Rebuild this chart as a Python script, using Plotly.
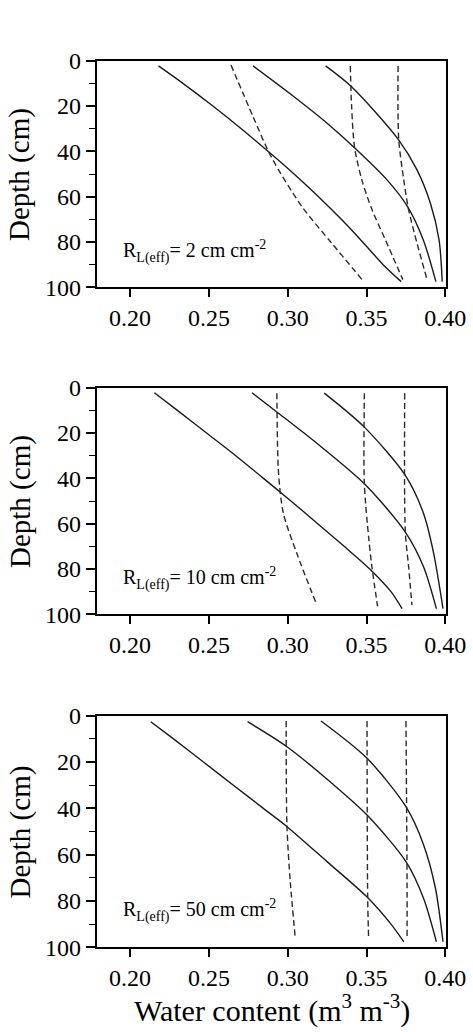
import plotly.graph_objects as go

# ---------------- data (depth in cm, water content in m3 m-3) ----------------
# Panel 1: R_L(eff) = 2 cm cm-2
p1_s1_depth = [2.3, 10, 20, 30, 40, 50, 60, 70, 80, 90, 97.5]
p1_s1_theta = [0.218, 0.2335, 0.2525, 0.2705, 0.2875, 0.304, 0.3195, 0.334, 0.3475, 0.3605, 0.372]
p1_s2_depth = [2.3, 15.9, 27.6, 38.2, 52.6, 64.4, 79.1, 97.5]
p1_s2_theta = [0.278, 0.304, 0.325, 0.342, 0.363, 0.376, 0.386, 0.394]
p1_s3_depth = [2.3, 11.2, 34.6, 48.2, 62.9, 79.1, 97.5]
p1_s3_theta = [0.324, 0.340, 0.370, 0.382, 0.3905, 0.396, 0.398]
p1_d1_depth = [1.9, 24.7, 42.4, 64.4, 80.6, 96.5]
p1_d1_theta = [0.264, 0.278, 0.2895, 0.309, 0.328, 0.347]
p1_d2_depth = [2.3, 20.0, 38.2, 52.6, 65.8, 79.1, 96.6]
p1_d2_theta = [0.3397, 0.3405, 0.3424, 0.347, 0.3535, 0.362, 0.373]
p1_d3_depth = [2.3, 34.6, 52.6, 65.8, 80.5, 96.6]
p1_d3_theta = [0.370, 0.3704, 0.3736, 0.3767, 0.382, 0.3884]

# Panel 2: R_L(eff) = 10 cm cm-2
p2_s1_depth = [2.2, 10, 20, 30, 40, 50, 60, 70, 80, 90, 97.5]
p2_s1_theta = [0.2154, 0.230, 0.2485, 0.267, 0.2846, 0.302, 0.319, 0.3358, 0.352, 0.3655, 0.3725]
p2_s2_depth = [2.2, 10.7, 24.0, 42.4, 63.7, 79.1, 97.5]
p2_s2_theta = [0.2773, 0.2931, 0.3175, 0.3486, 0.3746, 0.3862, 0.3943]
p2_s3_depth = [2.4, 17.4, 38.7, 55.6, 73.2, 97.5]
p2_s3_theta = [0.3232, 0.3486, 0.3746, 0.3862, 0.3926, 0.3985]
p2_d1_depth = [2.4, 38.2, 55.6, 73.2, 96.0]
p2_d1_theta = [0.2931, 0.2942, 0.2973, 0.3058, 0.3185]
p2_d2_depth = [2.4, 42.4, 65.9, 79.1, 96.5]
p2_d2_theta = [0.3486, 0.3486, 0.3513, 0.3534, 0.357]
p2_d3_depth = [2.4, 63.7, 79.1, 96.0]
p2_d3_theta = [0.3742, 0.3746, 0.3767, 0.3788]

# Panel 3: R_L(eff) = 50 cm cm-2
p3_s1_depth = [2.6, 10, 20, 30, 40, 47.6, 63.0, 78.1, 90, 97.6]
p3_s1_theta = [0.2131, 0.2275, 0.2465, 0.2655, 0.2845, 0.299, 0.3249, 0.350, 0.3655, 0.3736]
p3_s2_depth = [2.6, 13.4, 29.2, 42.9, 63.0, 78.9, 97.6]
p3_s2_theta = [0.2745, 0.2995, 0.328, 0.3503, 0.375, 0.3862, 0.3943]
p3_s3_depth = [2.3, 18.4, 39.3, 55.8, 74.5, 97.6]
p3_s3_theta = [0.3211, 0.3503, 0.375, 0.3862, 0.3937, 0.3985]
p3_d1_depth = [2.3, 47.6, 71.7, 96.1]
p3_d1_theta = [0.299, 0.2995, 0.3016, 0.3048]
p3_d2_depth = [2.3, 78.1, 96.1]
p3_d2_theta = [0.3503, 0.3507, 0.3513]
p3_d3_depth = [2.3, 71.7, 96.1]
p3_d3_theta = [0.375, 0.3757, 0.3757]

panel_labels = ["2", "10", "50"]
x_tickvals = [0.20, 0.25, 0.30, 0.35, 0.40]
x_ticktext = ["0.20", "0.25", "0.30", "0.35", "0.40"]
y_tickvals = [0, 20, 40, 60, 80, 100]

panels = [
    [(p1_s1_theta, p1_s1_depth, "solid"), (p1_s2_theta, p1_s2_depth, "solid"), (p1_s3_theta, p1_s3_depth, "solid"),
     (p1_d1_theta, p1_d1_depth, "dash"), (p1_d2_theta, p1_d2_depth, "dash"), (p1_d3_theta, p1_d3_depth, "dash")],
    [(p2_s1_theta, p2_s1_depth, "solid"), (p2_s2_theta, p2_s2_depth, "solid"), (p2_s3_theta, p2_s3_depth, "solid"),
     (p2_d1_theta, p2_d1_depth, "dash"), (p2_d2_theta, p2_d2_depth, "dash"), (p2_d3_theta, p2_d3_depth, "dash")],
    [(p3_s1_theta, p3_s1_depth, "solid"), (p3_s2_theta, p3_s2_depth, "solid"), (p3_s3_theta, p3_s3_depth, "solid"),
     (p3_d1_theta, p3_d1_depth, "dash"), (p3_d2_theta, p3_d2_depth, "dash"), (p3_d3_theta, p3_d3_depth, "dash")],
]

# ---------------- layout geometry (pixels) ----------------
W, H = 473, 1032
x_left_px, x_right_px = 96.7, 446.0
panel_px = [(60.7, 287.3), (387.7, 614.3), (715.7, 947.3)]

FONT = "Times New Roman, Liberation Serif, DejaVu Serif, serif"
fig = go.Figure()

for i, curves in enumerate(panels):
    n = "" if i == 0 else str(i + 1)
    for th, dp, style in curves:
        fig.add_trace(go.Scatter(
            x=th, y=dp, mode="lines", xaxis="x" + n, yaxis="y" + n,
            line=dict(color="#1a1a1a" if style == "solid" else "#2a2a2a",
                      width=1.4, dash="solid" if style == "solid" else "6px,3.5px",
                      shape="spline", smoothing=0.8),
            showlegend=False, hoverinfo="skip"))
    top, bot = panel_px[i]
    ydom = [1 - bot / H, 1 - top / H]
    xdom = [x_left_px / W, x_right_px / W]
    fig.layout["xaxis" + n] = dict(
        domain=xdom, anchor="y" + n, range=[0.1788, 0.4004], automargin=False,
        tickvals=x_tickvals, ticktext=x_ticktext, ticks="outside", ticklen=8,
        tickwidth=1.5, tickcolor="black", showline=True, linewidth=2, linecolor="black",
        mirror=True, showgrid=False, zeroline=False,
        tickfont=dict(family=FONT, size=24, color="black"))
    fig.layout["yaxis" + n] = dict(
        domain=ydom, anchor="x" + n, range=[100, 0], automargin=False,
        tickvals=y_tickvals, ticks="outside", ticklen=9, tickwidth=1.5, tickcolor="black",
        minor=dict(tickvals=[10, 30, 50, 70, 90], ticks="outside", ticklen=6, tickwidth=1.2, tickcolor="black"),
        showline=True, linewidth=2, linecolor="black", mirror=True,
        showgrid=False, zeroline=False,
        tickfont=dict(family=FONT, size=24, color="black"))
    # Depth title
    fig.add_annotation(
        text="Depth (cm)", textangle=-90, xref="paper", yref="paper",
        x=20 / W, y=1 - ((top + bot) / 2 + 1) / H, xanchor="center", yanchor="middle",
        showarrow=False, font=dict(family=FONT, size=29, color="black"))
    # Panel label
    fig.add_annotation(
        text="R<sub>L(eff)</sub>= " + panel_labels[i] + " cm cm<sup>-2</sup>",
        xref="x" + n, yref="y" + n, x=0.1945, y=84, xanchor="left", yanchor="middle",
        showarrow=False, font=dict(family=FONT, size=20, color="black"))

fig.add_annotation(
    text="Water content (m<sup>3</sup> m<sup>-3</sup>)", xref="paper", yref="paper",
    x=271.5 / W, y=1 - 1008 / H, xanchor="center", yanchor="middle",
    showarrow=False, font=dict(family=FONT, size=30, color="black"))

fig.update_layout(
    width=W, height=H, margin=dict(l=0, r=0, t=0, b=0),
    paper_bgcolor="white", plot_bgcolor="white", showlegend=False)

fig.write_html("out.html")
